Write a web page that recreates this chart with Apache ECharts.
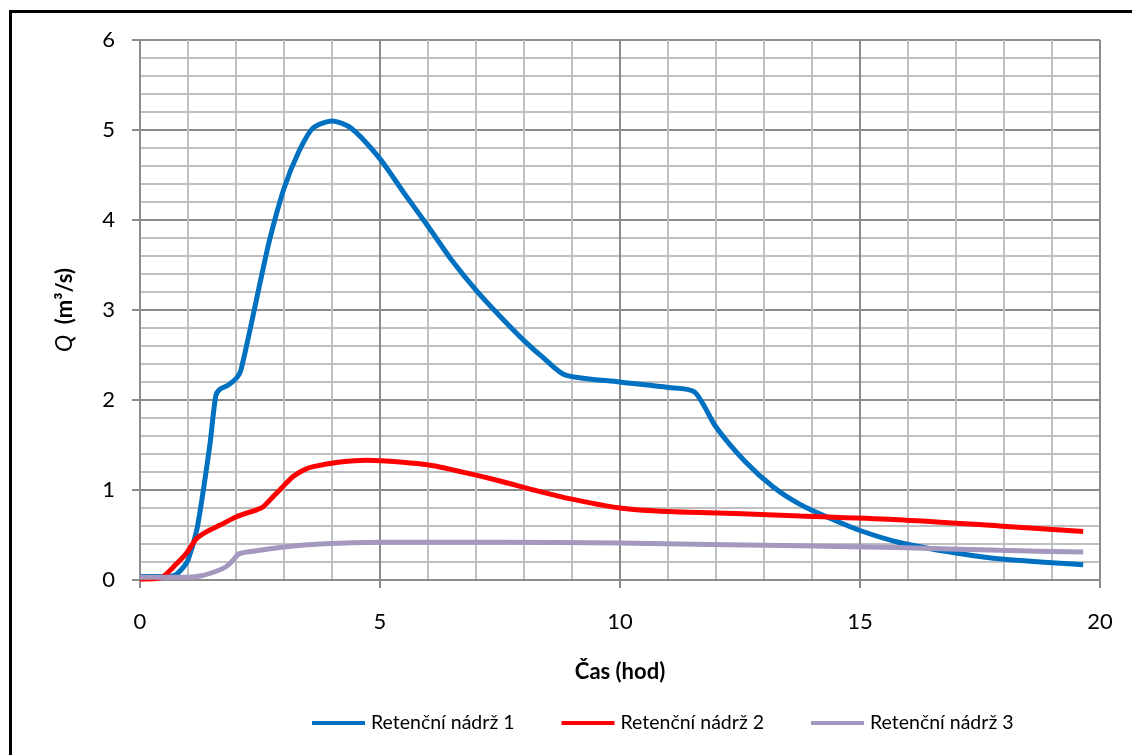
<!DOCTYPE html>
<html>
<head>
<meta charset="utf-8">
<script src="https://cdn.jsdelivr.net/npm/echarts@6/dist/echarts.min.js"></script>
<style>
html,body{margin:0;padding:0;background:#fff;}
#c{width:1132px;height:755px;}
</style>
</head>
<body>
<div id="c"></div>
<script>
// Series names
const seriesNames = ['Retenční nádrž 1', 'Retenční nádrž 2', 'Retenční nádrž 3'];

// Retenční nádrž 1 (time in hours, Q in m3/s)
const t1 = [0, 0.6, 0.75, 0.9, 1.0, 1.18, 1.32, 1.46, 1.58, 1.67, 1.85, 2.02, 2.1, 2.3, 2.5, 2.7, 3.0, 3.3, 3.6, 4.0, 4.4, 5.0, 5.5, 6.0, 6.5, 7.0, 7.5, 8.0, 8.4, 8.85, 10, 11, 11.55, 12, 12.6, 13.2, 13.75, 14.4, 15, 15.8, 17, 18, 19.65];
const q1 = [0.04, 0.04, 0.06, 0.14, 0.22, 0.55, 1.0, 1.52, 2.05, 2.12, 2.17, 2.25, 2.33, 2.8, 3.3, 3.78, 4.35, 4.75, 5.02, 5.1, 5.02, 4.68, 4.3, 3.93, 3.55, 3.22, 2.93, 2.66, 2.47, 2.28, 2.2, 2.14, 2.09, 1.7, 1.32, 1.03, 0.84, 0.68, 0.55, 0.42, 0.3, 0.23, 0.17];

// Retenční nádrž 2
const t2 = [0, 0.45, 0.76, 0.97, 1.18, 1.4, 1.67, 2.0, 2.43, 2.56, 2.78, 3.0, 3.19, 3.4, 3.61, 4.17, 4.72, 5.42, 6.11, 6.8, 7.5, 8.2, 8.89, 10, 11, 12.4, 13.75, 15.8, 17.9, 19.65];
const q2 = [0.01, 0.03, 0.18, 0.3, 0.46, 0.54, 0.61, 0.70, 0.78, 0.81, 0.93, 1.05, 1.15, 1.22, 1.26, 1.31, 1.33, 1.31, 1.27, 1.19, 1.1, 1.0, 0.91, 0.8, 0.76, 0.74, 0.71, 0.67, 0.6, 0.54];

// Retenční nádrž 3
const t3 = [0, 1.0, 1.3, 1.6, 1.8, 1.94, 2.06, 2.36, 3.06, 3.75, 5, 7.5, 10, 13.75, 15.8, 17.9, 19.65];
const q3 = [0.03, 0.03, 0.05, 0.10, 0.15, 0.22, 0.29, 0.32, 0.37, 0.40, 0.42, 0.42, 0.41, 0.38, 0.36, 0.33, 0.31];

const colors = ['#0070C0', '#FF0000', '#A598BF'];
const pairs = (t, q) => t.map((v, i) => [v, q[i]]);

const FONT = 'Lato, "Open Sans", sans-serif';
const minorLine = {show: true, lineStyle: {color: '#C0C0C0', width: 2}};
const majorLine = {show: true, lineStyle: {color: '#8C8C8C', width: 2}};

const chart = echarts.init(document.getElementById('c'), null, {renderer: 'canvas'});
chart.setOption({
  backgroundColor: '#fff',
  animation: false,
  textStyle: {fontFamily: FONT},
  grid: {left: 140, right: 32, top: 40, bottom: 175, containLabel: false},
  graphic: [
    {type: 'rect', shape: {x: 9, y: 10, width: 3, height: 745}, style: {fill: '#000'}, z: 100},
    {type: 'rect', shape: {x: 9, y: 10, width: 1123, height: 3}, style: {fill: '#000'}, z: 100}
  ],
  legend: {
    left: 312, top: 713, padding: 0,
    icon: 'rect',
    itemWidth: 53, itemHeight: 4, itemGap: 47,
    textStyle: {fontFamily: FONT, fontSize: 19.5, color: '#000', padding: [0, 0, 0, 1]},
    data: seriesNames
  },
  xAxis: {
    type: 'value', min: 0, max: 20, interval: 5,
    name: 'Čas (hod)', nameLocation: 'middle', nameGap: 81,
    nameTextStyle: {fontFamily: FONT, fontSize: 22, fontWeight: 'bold', color: '#000'},
    axisLine: {show: true, lineStyle: {color: '#8C8C8C', width: 2}},
    axisTick: {show: true, inside: false, length: 8, lineStyle: {color: '#8C8C8C', width: 2}},
    axisLabel: {margin: 31, fontSize: 22, color: '#000', fontFamily: FONT},
    splitLine: majorLine,
    minorTick: {show: false, splitNumber: 5},
    minorSplitLine: minorLine
  },
  yAxis: {
    type: 'value', min: 0, max: 6, interval: 1,
    name: '{i|Q}  (m³/s)', nameLocation: 'middle', nameGap: 64,
    nameTextStyle: {fontFamily: FONT, fontSize: 22, fontWeight: 'bold', color: '#000',
      rich: {i: {fontStyle: 'italic', fontWeight: 'normal', fontSize: 23, fontFamily: FONT, color: '#000'}}},
    axisLine: {show: true, lineStyle: {color: '#8C8C8C', width: 2}},
    axisTick: {show: true, inside: false, length: 8, lineStyle: {color: '#8C8C8C', width: 2}},
    axisLabel: {margin: 25, fontSize: 22, color: '#000', fontFamily: FONT},
    splitLine: majorLine,
    minorTick: {show: false, splitNumber: 5},
    minorSplitLine: minorLine
  },
  series: [
    {name: seriesNames[0], type: 'line', data: pairs(t1, q1), symbol: 'none', smooth: 0.25,
     lineStyle: {color: colors[0], width: 5}, itemStyle: {color: colors[0]}},
    {name: seriesNames[1], type: 'line', data: pairs(t2, q2), symbol: 'none', smooth: 0.25,
     lineStyle: {color: colors[1], width: 5}, itemStyle: {color: colors[1]}},
    {name: seriesNames[2], type: 'line', data: pairs(t3, q3), symbol: 'none', smooth: 0.25,
     lineStyle: {color: colors[2], width: 5}, itemStyle: {color: colors[2]}}
  ]
});
</script>
</body>
</html>
